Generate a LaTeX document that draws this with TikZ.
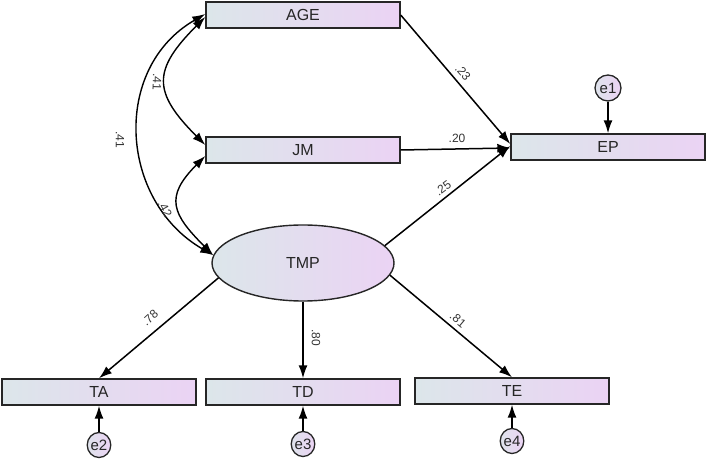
\documentclass[tikz,border=0pt]{standalone}
\usepackage{fontspec}
\setmainfont{Liberation Sans}
\usetikzlibrary{arrows.meta,shapes.geometric}
\definecolor{boxL}{HTML}{DCE6EA}
\definecolor{boxR}{HTML}{EBD3F4}
\definecolor{eFill}{HTML}{E4DCEE}
\definecolor{edge}{HTML}{262626}
\tikzset{
  var/.style={rectangle, draw=edge, line width=1.4pt, minimum width=194pt, minimum height=26pt,
    inner sep=0pt, left color=boxL, right color=boxR, font=\fontsize{16}{18}\selectfont, text=black!85},
  lat/.style={ellipse, draw=edge, line width=1.4pt, minimum width=182pt, minimum height=76pt,
    inner sep=0pt, left color=boxL, right color=boxR, font=\fontsize{16}{18}\selectfont, text=black!85},
  err/.style={ellipse, draw=edge, line width=1.3pt, minimum width=23pt, minimum height=25pt,
    inner sep=0pt, left color=boxL!70!eFill, right color=boxR, font=\fontsize{15}{16}\selectfont, text=black!85},
  path/.style={draw=black, line width=1.5pt, -{Latex[length=13pt,width=9pt]}},
  cov/.style={draw=black, line width=1.4pt, {Latex[length=13pt,width=9pt]}-{Latex[length=13pt,width=9pt]}},
  lbl/.style={font=\fontsize{12}{13}\selectfont, text=black!80, inner sep=0pt}
}
\begin{document}
\begin{tikzpicture}[x=1pt,y=1pt]
\useasboundingbox (0,0) rectangle (708,460);
% nodes
\node[var] (AGE) at (303,445) {AGE};
\node[var] (JM)  at (303,310) {JM};
\node[var] (EP)  at (608,313) {EP};
\node[lat] (TMP) at (303,197) {TMP};
\node[var] (TA)  at (99,68)   {TA};
\node[var] (TD)  at (303,68)  {TD};
\node[var] (TE)  at (512,69)  {TE};
\node[err, minimum width=26pt, minimum height=26pt] (e1) at (608,372) {e1};
\node[err] (e2) at (99,15)  {e2};
\node[err] (e3) at (303,16) {e3};
\node[err] (e4) at (512,19) {e4};
% regression paths
\draw[path] (AGE.east) -- ([yshift=3pt]EP.west);
\draw[path] (JM.east) -- ([yshift=-1pt]EP.west);
\draw[path] (TMP.12) -- ([yshift=1pt]EP.west);
\draw[path] (TMP.190) -- (TA.north);
\draw[path] (TMP.south) -- (TD.north);
\draw[path] (TMP.-8) -- (TE.north);
% errors
\draw[path] (e1.south) -- (EP.north);
\draw[path] (e2.north) -- (TA.south);
\draw[path] (e3.north) -- (TD.south);
\draw[path] (e4.north) -- (TE.south);
% covariances
\draw[cov] ([yshift=-2pt]AGE.west) to[out=225, in=135, looseness=1.5] ([yshift=5pt]JM.west);
\draw[cov] ([yshift=1pt]AGE.west) to[out=210, in=150, looseness=1.15] (TMP.175);
\draw[cov] ([yshift=-6pt]JM.west) to[out=225, in=135, looseness=1.5] (TMP.175);
% labels
\node[lbl, rotate=-49] (l23) at (463,387) {.23};
\node[lbl] (l20) at (457,322) {.20};
\node[lbl, rotate=37] (l25) at (443,272) {.25};
\node[lbl, rotate=-92] (l41a) at (157,378) {.41};
\node[lbl, rotate=-90] (l41b) at (120,320) {.41};
\node[lbl, rotate=-62] (l42) at (165,251) {.42};
\node[lbl, rotate=42] (l78) at (150,142) {.78};
\node[lbl, rotate=-90] (l80) at (316,122) {.80};
\node[lbl, rotate=-40] (l81) at (458,140) {.81};
\end{tikzpicture}
\end{document}
